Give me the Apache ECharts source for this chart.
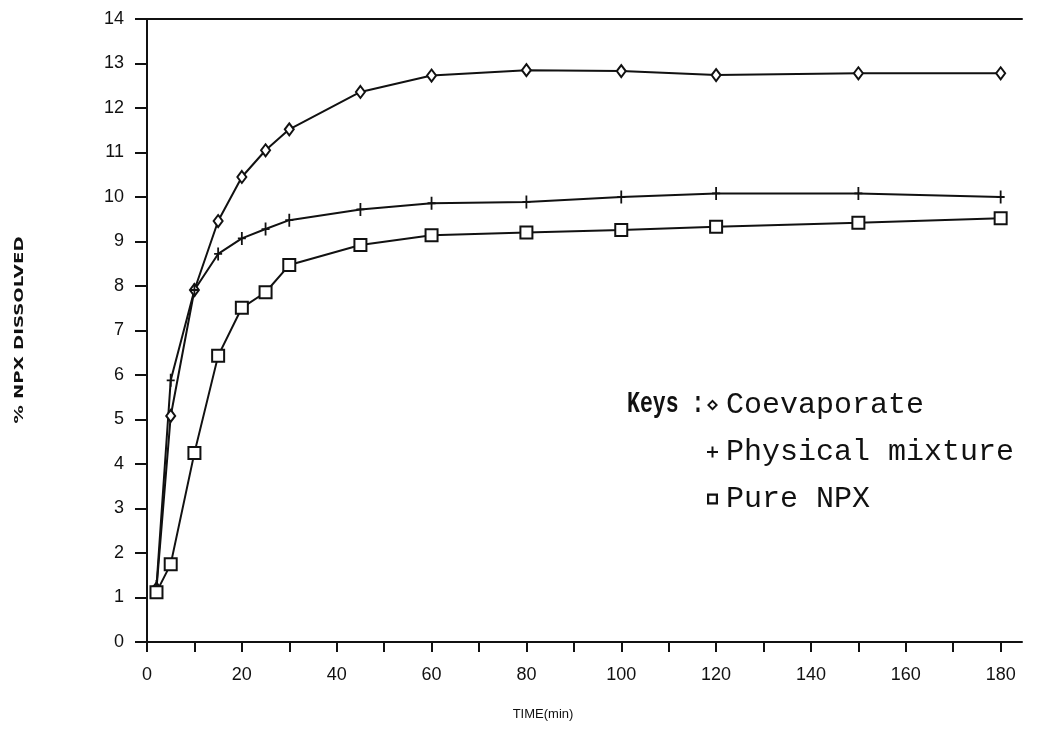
<!DOCTYPE html>
<html>
<head>
<meta charset="utf-8">
<script src="https://cdn.jsdelivr.net/npm/echarts@6/dist/echarts.min.js"></script>
<style>
html,body{margin:0;padding:0;background:#fff;}
#c{width:1039px;height:730px;}
</style>
</head>
<body>
<div id="c"></div>
<script>
// ---- data ----
const times = [2, 5, 10, 15, 20, 25, 30, 45, 60, 80, 100, 120, 150, 180];
const coevaporate     = [1.20, 5.08, 7.91, 9.46, 10.45, 11.05, 11.52, 12.36, 12.73, 12.85, 12.83, 12.74, 12.78, 12.78];
const physicalMixture = [1.25, 5.88, 7.91, 8.72, 9.07, 9.28, 9.48, 9.72, 9.86, 9.89, 10.00, 10.08, 10.08, 10.00];
const pureNPX         = [1.12, 1.75, 4.25, 6.43, 7.51, 7.86, 8.47, 8.92, 9.14, 9.20, 9.26, 9.33, 9.42, 9.52];
const seriesNames = ['Coevaporate', 'Physical mixture', 'Pure NPX'];
const xTickValues  = [0, 10, 20, 30, 40, 50, 60, 70, 80, 90, 100, 110, 120, 130, 140, 150, 160, 170, 180];
const xLabelValues = [0, 20, 40, 60, 80, 100, 120, 140, 160, 180];
const xAxisTitle = 'TIME(min)';
const yAxisTitle = '% NPX DISSOLVED';
const keysLabel = 'Keys :';

// ---- styling ----
const INK = '#111';
const plusSymbol   = 'path://M31,0 H49 V130 H31 Z M0,56 H80 V74 H0 Z';
const diamondIcon  = 'path://M50,0 L100,50 L50,100 L0,50 Z M50,24 L24,50 L50,76 L76,50 Z';
const plusIcon     = 'path://M41,0 H59 V100 H41 Z M0,41 H100 V59 H0 Z';
const squareIcon   = 'path://M0,0 H100 V100 H0 Z M20,20 V80 H80 V20 Z';

function pairs(vals){ return times.map((t,i)=>[t, vals[i]]); }

const chart = echarts.init(document.getElementById('c'), null, {renderer:'canvas'});
const lineStyle = {color: INK, width: 2};

chart.setOption({
  animation: false,
  backgroundColor: '#fff',
  grid: {left: 147, top: 19, right: 17, bottom: 88, containLabel: false},
  xAxis: [{
    type: 'value', position: 'bottom', min: 0, max: 184.5,
    axisLine: {show: true, onZero: false, lineStyle: {color: INK, width: 2}},
    axisTick: {show: true, inside: false, length: 10, customValues: xTickValues, lineStyle: {color: INK, width: 2}},
    axisLabel: {show: true, customValues: xLabelValues, margin: 24, color: INK,
      fontFamily: 'Liberation Sans', fontSize: 18},
    splitLine: {show: false}
  }, {
    type: 'value', position: 'top', min: 0, max: 184.5,
    axisLine: {show: true, onZero: false, lineStyle: {color: INK, width: 2}},
    axisTick: {show: false}, axisLabel: {show: false}, splitLine: {show: false}
  }],
  yAxis: {
    type: 'value', min: 0, max: 14, interval: 1,
    axisLine: {show: true, onZero: false, lineStyle: {color: INK, width: 2}},
    axisTick: {show: true, inside: false, length: 12, lineStyle: {color: INK, width: 2}},
    axisLabel: {margin: 23, color: INK, fontFamily: 'Liberation Sans', fontSize: 18},
    splitLine: {show: false}
  },
  legend: {
    orient: 'vertical', left: 707, top: 390, padding: 0, itemGap: 17, itemWidth: 11, itemHeight: 11,
    selectedMode: false,
    textStyle: {fontFamily: 'Liberation Mono', fontSize: 30, color: INK, lineHeight: 30, padding: [0, 0, 0, 3]},
    itemStyle: {color: INK, borderWidth: 0},
    data: [
      {name: seriesNames[0], icon: diamondIcon},
      {name: seriesNames[1], icon: plusIcon},
      {name: seriesNames[2], icon: squareIcon}
    ]
  },
  graphic: [
    {type: 'text', x: 627, y: 405, scaleX: 0.74,
      style: {text: keysLabel, font: 'bold 29px "Liberation Mono"', fill: INK, verticalAlign: 'middle', align: 'left'}},
    {type: 'text', x: 20, y: 330, rotation: Math.PI / 2, scaleX: 1.4,
      style: {text: yAxisTitle, font: 'bold 13px "DejaVu Sans"', fill: INK, align: 'center', verticalAlign: 'middle'}},
    {type: 'text', x: 543, y: 714,
      style: {text: xAxisTitle, font: '13px "Liberation Sans"', fill: INK, align: 'center', verticalAlign: 'middle'}}
  ],
  series: [
    {name: seriesNames[0], type: 'line', data: pairs(coevaporate), xAxisIndex: 0,
      symbol: 'emptyDiamond', symbolSize: [9, 12], showAllSymbol: true,
      lineStyle: lineStyle, itemStyle: {color: INK, borderWidth: 1.5}, z: 3},
    {name: seriesNames[1], type: 'line', data: pairs(physicalMixture), xAxisIndex: 0,
      symbol: plusSymbol, symbolSize: [8, 13], showAllSymbol: true,
      lineStyle: lineStyle, itemStyle: {color: INK, borderWidth: 0}, z: 3},
    {name: seriesNames[2], type: 'line', data: pairs(pureNPX), xAxisIndex: 0,
      symbol: 'emptyRect', symbolSize: [12, 12], showAllSymbol: true,
      lineStyle: lineStyle, itemStyle: {color: INK, borderWidth: 1.5}, z: 3}
  ]
});
</script>
</body>
</html>
